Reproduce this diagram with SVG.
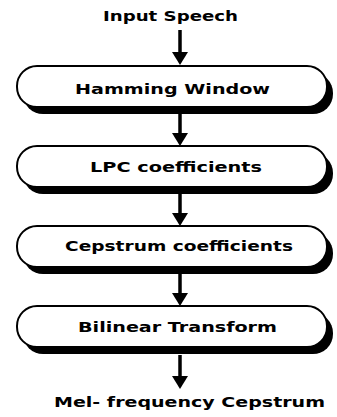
<svg xmlns="http://www.w3.org/2000/svg" width="337" height="417" viewBox="0 0 337 417">
<style>
.shadow{fill:#000;stroke:none}
.box{fill:#fff;stroke:#000;stroke-width:2}
.lbl{font-family:"DejaVu Sans","Liberation Sans",sans-serif;font-weight:bold;font-size:14px;fill:#000}
.conn{stroke:#000;stroke-width:3.5;fill:none}
</style>
<defs>
<marker id="ah" viewBox="0 0 13 16" refX="0" refY="8" markerWidth="13" markerHeight="16" markerUnits="userSpaceOnUse" orient="auto">
<path d="M0,0 L13,8 L0,16 Z" fill="#000"/>
</marker>
</defs>
<rect width="337" height="417" fill="#fff"/>
<g id="connectors">
<line class="conn" x1="180" y1="30" x2="180" y2="52" marker-end="url(#ah)"/>
<line class="conn" x1="180" y1="114" x2="180" y2="133" marker-end="url(#ah)"/>
<line class="conn" x1="180" y1="194" x2="180" y2="213" marker-end="url(#ah)"/>
<line class="conn" x1="180" y1="274" x2="180" y2="293" marker-end="url(#ah)"/>
<line class="conn" x1="180" y1="355" x2="180" y2="376" marker-end="url(#ah)"/>
</g>
<g id="input">
<text class="lbl" x="103" y="21" textLength="135" lengthAdjust="spacingAndGlyphs">Input Speech</text>
</g>
<g id="hamming">
<rect class="shadow" x="23" y="73" width="310" height="41" rx="20" ry="20"/>
<rect class="box" x="17" y="66" width="310" height="41" rx="20" ry="20"/>
<text class="lbl" x="75" y="94" textLength="195" lengthAdjust="spacingAndGlyphs">Hamming Window</text>
</g>
<g id="lpc">
<rect class="shadow" x="23" y="153" width="310" height="41" rx="20" ry="20"/>
<rect class="box" x="17" y="146" width="310" height="41" rx="20" ry="20"/>
<text class="lbl" x="90" y="172" textLength="172" lengthAdjust="spacingAndGlyphs">LPC coefficients</text>
</g>
<g id="cepstrum">
<rect class="shadow" x="23" y="233" width="310" height="41" rx="20" ry="20"/>
<rect class="box" x="17" y="226" width="310" height="41" rx="20" ry="20"/>
<text class="lbl" x="65" y="251" textLength="228" lengthAdjust="spacingAndGlyphs">Cepstrum coefficients</text>
</g>
<g id="bilinear">
<rect class="shadow" x="23" y="313" width="310" height="41" rx="20" ry="20"/>
<rect class="box" x="17" y="306" width="310" height="41" rx="20" ry="20"/>
<text class="lbl" x="78" y="332" textLength="199" lengthAdjust="spacingAndGlyphs">Bilinear Transform</text>
</g>
<g id="output">
<text class="lbl" x="54" y="407" textLength="271" lengthAdjust="spacingAndGlyphs">Mel- frequency Cepstrum</text>
</g>
</svg>
